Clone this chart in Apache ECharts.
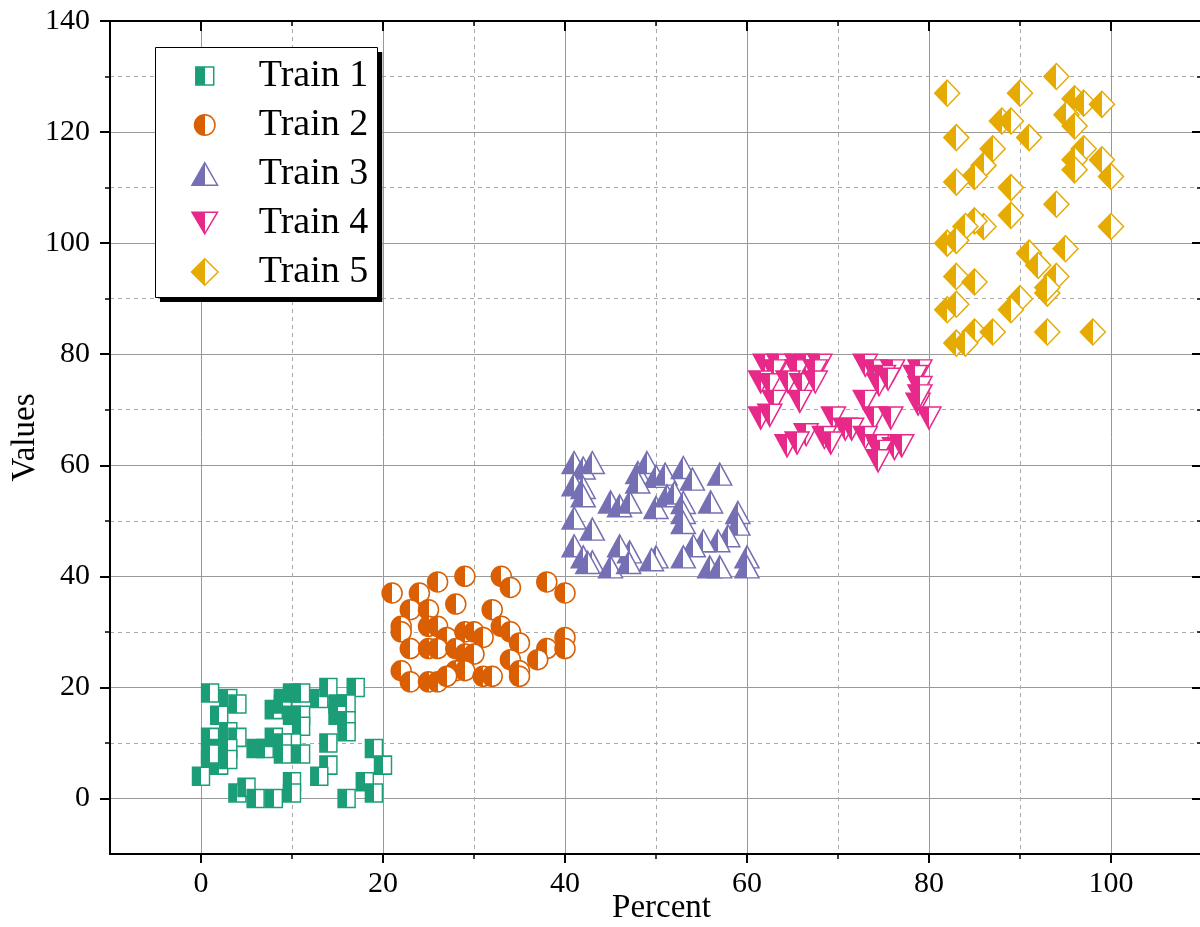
<!DOCTYPE html>
<html>
<head>
<meta charset="utf-8">
<script src="https://cdn.jsdelivr.net/npm/echarts@6/dist/echarts.min.js"></script>
<style>html,body{margin:0;padding:0;background:#fff}#c{width:1200px;height:927px}</style>
</head>
<body>
<div id="c"></div>
<script>
var seriesNames = ['Train 1', 'Train 2', 'Train 3', 'Train 4', 'Train 5'];
var colors = ['#1b9e77', '#d95f02', '#7570b3', '#e7298a', '#e6ab02'];
var xMajorTicks = [0, 20, 40, 60, 80, 100];
var xMinorTicks = [10, 30, 50, 70, 90];
var yMajorTicks = [0, 20, 40, 60, 80, 100, 120, 140];
var yMinorTicks = [10, 30, 50, 70, 90, 110, 130];

var train1 = [[1,19],[3,18],[4,17],[2,15],[1,11],[3,12],[4,11],[1,7],[2,6],[0,4],[2,9],[3,9],[6,9],[7,9],[8,11],[8,16],[9,17],[9,18],[10,19],[11,19],[10,15],[11,15],[11,13],[10,10],[9,10],[9,8],[11,8],[13,18],[14,20],[17,20],[15,17],[16,17],[15,15],[16,14],[16,12],[14,10],[14,6],[13,4],[19,9],[20,6],[18,3],[19,1],[16,0],[4,1],[5,2],[6,0],[8,0],[10,3],[10,1],[1,8],[3,7]];
var train2 = [[21,37],[26,39],[29,40],[33,40],[34,38],[38,39],[40,37],[24,37],[23,34],[25,34],[28,35],[32,34],[22,31],[25,31],[26,31],[22,30],[27,29],[29,30],[30,30],[31,29],[33,31],[34,30],[35,28],[38,27],[40,29],[40,27],[23,27],[25,27],[26,27],[28,27],[29,26],[30,26],[34,25],[37,25],[22,23],[23,21],[25,21],[26,21],[28,23],[29,23],[31,22],[32,22],[35,23],[35,22],[27,22]];
var train3 = [[41,60.5],[42,59.5],[43,60.5],[41,56.5],[42,56],[42,54.5],[41,50.5],[43,48.5],[41,45.5],[42,43.5],[43,42.6],[42.5,42.5],[45,53.4],[46,52.7],[47.1,53.4],[48,58.7],[49,60.5],[50,58],[51,58.4],[53,59.6],[54,57.5],[57,58.4],[48,57],[50,52.4],[51.2,54.5],[52,55],[53,53.3],[53,51.5],[53,49.7],[56,53.4],[59,51.5],[59,49.4],[57.9,47.3],[56.8,46.4],[55.2,46.4],[54.1,45.5],[53,43.5],[50,43.5],[47.1,44.4],[46,45.5],[45,41.7],[55.9,41.7],[57,41.7],[60,43.5],[60,41.7],[47,42.5],[49.5,43]];
var train4 = [[62,78],[63.5,78],[65.5,78],[66.5,78],[68,78],[73,78],[74,77],[76,77],[79,77],[63,77],[65.5,77],[67.5,77],[75,76],[78.5,76],[61.5,75],[62.5,74.5],[64.5,75],[66,74.5],[67.5,75],[74.5,74.5],[75.5,75.5],[79,74],[63,71.5],[65.8,71.5],[73,71.5],[78.8,71],[79,72.5],[61.5,68.5],[62.5,69],[69.5,68.5],[74,68.5],[75.8,68.5],[80,68.5],[70.8,66.5],[71.5,66.5],[66.5,65.5],[68.5,65],[73,65],[64.4,63.5],[65.5,64],[69.2,64],[74.3,63.5],[76.2,63],[77,63.5],[74.6,62.5],[74.4,60.8]];
var train5 = [[82,127],[90,127],[94,130],[96,126],[97,125.2],[99,125],[95.1,123.1],[96,121.1],[88,122],[89,122],[83,119],[91,119],[87,117],[97,117],[96,115],[99,115],[96,113.2],[100,112],[86,114],[85,112],[83,111],[89,110],[94,107],[89,105],[100,103],[86,103],[85,104],[84,103],[82,100],[83,100.5],[91,98.2],[95,99],[92,96],[94,94],[93,91],[93,92],[83,94],[85,93],[90,90],[89,88],[82,88],[83,89],[83,82],[85,84],[87,84],[84,82],[93,84],[98,84]];

var seriesData = [train1, train2, train3, train4, train5];
var symbols = ['rect', 'circle', 'triangle', 'path://M0 0L100 0L50 100Z', 'diamond'];
var symbolSizes = [[17, 18], 20, [24, 22], [24, 22], [25, 26]];
var legendIcons = [
  'path://M0 0M100 100M18 18L82 18L82 82L18 82Z',
  'path://M0 0M100 100M50 13.4A36.6 36.6 0 1 1 50 86.6A36.6 36.6 0 1 1 50 13.4Z',
  'path://M0 0M100 100M4.5 90L50 10L95.5 90Z',
  'path://M0 0M100 100M4.5 11.5L95.5 11.5L50 88.5Z',
  'path://M0 0M100 100M2.5 50L50 2.5L97.5 50L50 97.5Z'
];

function halfFill(c) {
  return {type: 'linear', x: 0, y: 0, x2: 1, y2: 0, colorStops: [
    {offset: 0, color: c}, {offset: 0.5, color: c},
    {offset: 0.5, color: '#ffffff'}, {offset: 1, color: '#ffffff'}]};
}

var FONT = 'Liberation Serif';
var black = '#000';

function axisBase(extra) {
  var base = {type: 'value', axisLine: {show: false, onZero: false},
    axisLabel: {show: false}, splitLine: {show: false}, axisTick: {show: false}};
  for (var k in extra) base[k] = extra[k];
  return base;
}

var xAxes = [
  axisBase({min: -10, max: 110, position: 'bottom', name: 'Percent', nameLocation: 'middle', nameGap: 38,
    nameMoveOverlap: false,
    nameTextStyle: {fontFamily: FONT, fontSize: 33, color: black, padding: [0, 0, 0, 11]},
    axisLine: {show: true, onZero: false, lineStyle: {color: black, width: 2}},
    axisTick: {show: true, inside: false, length: 9, customValues: xMajorTicks, lineStyle: {color: black, width: 2}},
    axisLabel: {show: true, customValues: xMajorTicks, margin: 15, fontFamily: FONT, fontSize: 30, color: black},
    splitLine: {show: true, lineStyle: {color: '#999', width: 1}}}),
  axisBase({min: -10, max: 110, position: 'bottom',
    axisTick: {show: true, inside: false, length: 5, customValues: xMinorTicks, lineStyle: {color: black, width: 1.5}},
    splitLine: {show: true, lineStyle: {color: '#aaa', width: 1, type: [4, 4]}}}),
  axisBase({min: -10, max: 110, position: 'top',
    axisLine: {show: true, onZero: false, lineStyle: {color: black, width: 2}},
    axisTick: {show: true, inside: true, length: 10, customValues: xMajorTicks, lineStyle: {color: black, width: 2}}}),
  axisBase({min: -10, max: 110, position: 'top',
    axisTick: {show: true, inside: true, length: 5, customValues: xMinorTicks, lineStyle: {color: black, width: 1.5}}})
];
var yAxes = [
  axisBase({min: -10, max: 140, position: 'left', name: 'Values', nameLocation: 'middle', nameGap: 68,
    nameMoveOverlap: false,
    nameTextStyle: {fontFamily: FONT, fontSize: 33, color: black},
    axisLine: {show: true, onZero: false, lineStyle: {color: black, width: 2}},
    axisTick: {show: true, inside: false, length: 10, customValues: yMajorTicks, lineStyle: {color: black, width: 2}},
    axisLabel: {show: true, customValues: yMajorTicks, margin: 20, fontFamily: FONT, fontSize: 30, color: black},
    splitLine: {show: true, showMaxLine: false, lineStyle: {color: '#999', width: 1}}}),
  axisBase({min: -10, max: 140, position: 'left',
    axisTick: {show: true, inside: false, length: 5, customValues: yMinorTicks, lineStyle: {color: black, width: 1.5}},
    splitLine: {show: true, lineStyle: {color: '#aaa', width: 1, type: [4, 4]}}}),
  axisBase({min: -10, max: 140, position: 'right',
    axisLine: {show: true, onZero: false, lineStyle: {color: black, width: 2}},
    axisTick: {show: true, inside: true, length: 10, customValues: yMajorTicks, lineStyle: {color: black, width: 2}}}),
  axisBase({min: -10, max: 140, position: 'right',
    axisTick: {show: true, inside: true, length: 5, customValues: yMinorTicks, lineStyle: {color: black, width: 1.5}}})
];

var series = seriesNames.map(function (name, i) {
  return {
    name: name, type: 'scatter', xAxisIndex: 0, yAxisIndex: 0,
    symbol: symbols[i], symbolSize: symbolSizes[i],
    itemStyle: {color: halfFill(colors[i]), borderColor: colors[i], borderWidth: 1.5, opacity: 1},
    emphasis: {disabled: true},
    data: seriesData[i]
  };
});

var chart = echarts.init(document.getElementById('c'), null, {renderer: 'canvas'});
chart.setOption({
  animation: false,
  backgroundColor: '#fff',
  grid: {left: 110, top: 21, right: -2, bottom: 73, containLabel: false, outerBoundsMode: 'none'},
  xAxis: xAxes,
  yAxis: yAxes,
  legend: {
    orient: 'vertical', left: 155, top: 47,
    itemWidth: 28, itemHeight: 28, itemGap: 11,
    padding: [10, 9, 6, 35],
    backgroundColor: '#fff', borderWidth: 0,
    shadowColor: black, shadowBlur: 0, shadowOffsetX: 5, shadowOffsetY: 5,
    itemStyle: {borderWidth: 1.5},
    textStyle: {fontFamily: FONT, fontSize: 38, color: black, padding: [0, 0, 0, 35]},
    data: seriesNames.map(function (n, i) { return {name: n, icon: legendIcons[i]}; })
  },
  series: series
});

// thin frame drawn over the legend box, matched to the legend's own laid-out size
var legendView = chart._componentsViews.filter(function (v) { return v.type === 'legend.plain'; })[0];
var frame = {x: 155.5, y: 47.5, width: 222, height: 250};
if (legendView) {
  var r = legendView.group.getBoundingRect();
  var g = legendView.group;
  frame = {x: Math.round(g.x + r.x) + 0.5, y: Math.round(g.y + r.y) + 0.5, width: Math.round(r.width), height: Math.round(r.height)};
}
chart.setOption({
  graphic: [{type: 'rect', z: 100, silent: true, shape: frame, style: {fill: 'none', stroke: black, lineWidth: 1}}]
});
</script>
</body>
</html>
